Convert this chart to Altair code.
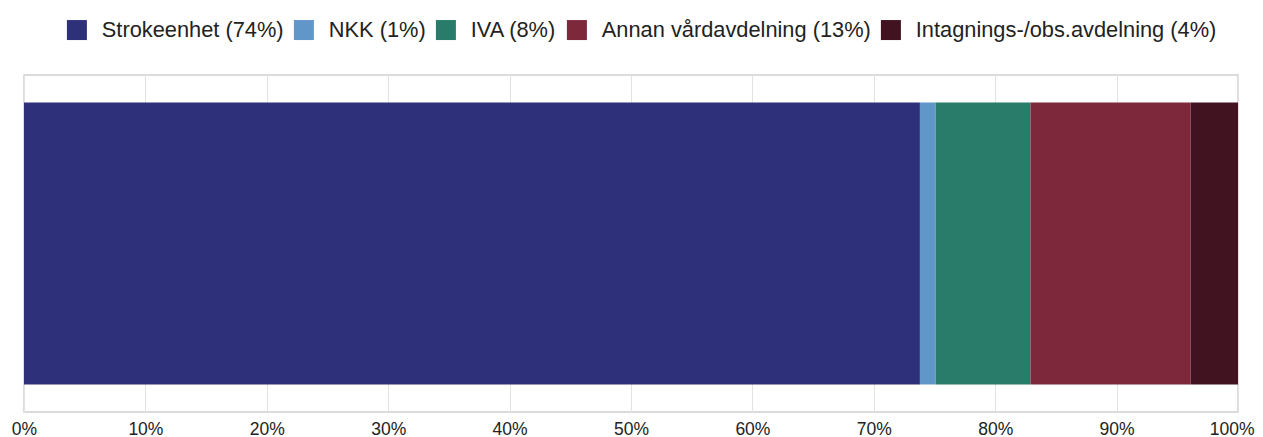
import altair as alt
import pandas as pd

categories = ["Strokeenhet", "NKK", "IVA", "Annan vårdavdelning", "Intagnings-/obs.avdelning"]
shares = [73.8, 1.3, 7.8, 13.2, 3.9]
label_pcts = [74, 1, 8, 13, 4]
colors = ["#2E3179", "#6196C9", "#297B6A", "#7E283B", "#41121F"]
x_ticks = [0, 10, 20, 30, 40, 50, 60, 70, 80, 90, 100]

labels = [f"{c} ({p}%)" for c, p in zip(categories, label_pcts)]
df = pd.DataFrame({
    "label": labels,
    "value": shares,
    "order": list(range(len(labels))),
    "row": ["all"] * len(labels),
})

chart = alt.Chart(df).mark_bar(size=282).encode(
    x=alt.X(
        "value:Q",
        stack="zero",
        scale=alt.Scale(domain=[0, 100], nice=False),
        axis=alt.Axis(
            values=x_ticks,
            labelExpr="datum.value + '%'",
            title=None,
            domain=False,
            ticks=False,
            grid=True,
            gridColor="#e2e2e2",
            gridWidth=1,
            labelFontSize=17.5,
            labelPadding=8,
            labelFlush=False,
            labelAlign=alt.condition("datum.value == 100", alt.value("right"), alt.value("center")),
            labelOffset=alt.condition("datum.value == 100", alt.value(16), alt.value(0)),
            labelColor="#222222",
            labelFont="Liberation Sans",
        ),
    ),
    y=alt.Y("row:N", axis=None),
    color=alt.Color(
        "label:N",
        scale=alt.Scale(domain=labels, range=colors),
        sort=labels,
        legend=alt.Legend(
            title=None,
            orient="none",
            legendX=42,
            legendY=-56,
            direction="horizontal",
            symbolType="square",
            symbolSize=400,
            symbolStrokeWidth=0,
            symbolOpacity=1,
            labelFontSize=21.8,
            labelFont="Liberation Sans",
            labelLimit=600,
            labelOffset=14,
            columnPadding=9,
            labelColor="#222222",
        ),
    ),
    order=alt.Order("order:Q"),
).properties(
    width=1214,
    height=337,
    padding={"left": 16, "top": 67, "right": 17, "bottom": 25},
    autosize=alt.AutoSizeParams(type="none"),
).configure_view(stroke="#d0d0d0", strokeWidth=1.5)

chart.save("out.html", embed_options={"renderer": "svg", "actions": False})
